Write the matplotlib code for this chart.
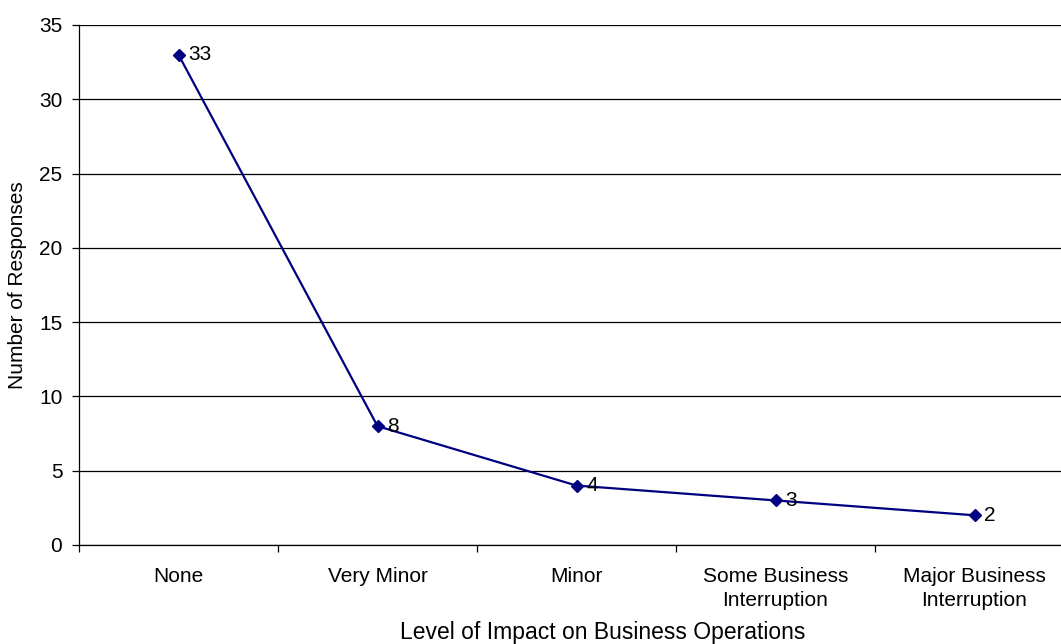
import matplotlib.pyplot as plt
import numpy as np

categories = ["None", "Very Minor", "Minor", "Some Business\nInterruption", "Major Business\nInterruption"]
responses = [33, 8, 4, 3, 2]
y_ticks = [0, 5, 10, 15, 20, 25, 30, 35]

plt.rcParams['font.family'] = ['Liberation Sans', 'DejaVu Sans']
FS = 15

fig = plt.figure(figsize=(10.61, 6.44), dpi=100)
W, H = 1061, 644
# plot area in pixels: left 79, right 1074 (clipped), top 25, bottom 545
ax = fig.add_axes([79 / W, (H - 545) / H, (1074 - 79) / W, (545 - 25) / H])

x = np.arange(len(categories))
ax.plot(x, responses, color='#000080', linewidth=1.6, marker='D', markersize=6,
        markerfacecolor='#000080', markeredgecolor='#000080', zorder=3)

for xi, v in zip(x, responses):
    ax.annotate(str(v), (xi, v), xytext=(7, 0), textcoords='offset points',
                ha='left', va='center', fontsize=FS, color='black')

ax.set_xlim(-0.5, len(categories) - 0.5)
ax.set_ylim(0, 35)
ax.set_yticks(y_ticks)
ax.yaxis.grid(True, color='black', linewidth=0.9)
ax.set_axisbelow(True)

# category labels centred, ticks on boundaries
ax.set_xticks(x)
ax.set_xticklabels(categories, fontsize=FS, linespacing=1.35)
ax.tick_params(axis='x', which='major', length=0, pad=16)
ax.set_xticks(np.arange(-0.5, len(categories), 1), minor=True)
ax.tick_params(axis='x', which='minor', length=5, width=0.9, direction='out')
ax.tick_params(axis='y', length=5, width=0.9, direction='out', labelsize=FS, pad=7)

for s in ['top', 'right']:
    ax.spines[s].set_visible(False)
ax.spines['left'].set_linewidth(0.9)
ax.spines['bottom'].set_linewidth(0.9)

fig.text(603 / W, 1 - 632 / H, "Level of Impact on Business Operations", fontsize=16.5,
         ha='center', va='center')
fig.text(18 / W, 1 - 285 / H, "Number of Responses", rotation=90, fontsize=FS,
         ha='center', va='center')

fig.savefig("out.png", dpi=100)
